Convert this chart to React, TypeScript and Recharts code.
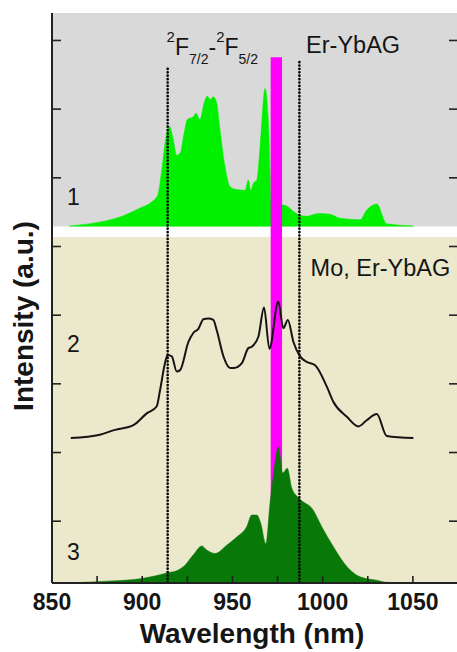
import React from "react";
import {
  ComposedChart,
  Area,
  Line,
  XAxis,
  YAxis,
  ReferenceArea,
  ReferenceDot,
} from "recharts";

// spectrum 1: Er-YbAG (bright green, upper panel)
const spec1Nm = [
  859.6, 872.9, 887.7, 898.8, 905.3, 908.6, 910.8, 913.2, 915.1, 916.9, 919.1, 921.0,
  923.2, 925.0, 928.3, 929.8, 932.0, 934.3, 936.1, 937.6, 939.4, 941.3, 943.1, 945.9,
  948.7, 952.4, 957.0, 958.8, 960.1, 961.6, 963.5, 965.3, 968.1, 969.9, 971.8, 976.4,
  980.1, 983.8, 987.1, 991.2, 997.6, 1004.1, 1009.7, 1020.8, 1024.4, 1030.0, 1035.5, 1050.3,
];
const spec1Val = [
  5.3, 5.34, 5.43, 5.56, 5.65, 5.75, 6.11, 6.6, 6.75, 6.6, 6.33, 6.36,
  6.65, 6.85, 6.89, 6.94, 6.85, 7.09, 7.19, 7.14, 7.18, 7.09, 6.7, 6.16,
  5.87, 5.83, 5.82, 5.97, 5.82, 5.92, 5.97, 6.45, 7.3, 6.84, 5.63, 5.61,
  5.59, 5.51, 5.46, 5.44, 5.48, 5.47, 5.41, 5.39, 5.53, 5.62, 5.33, 5.3,
];

// spectrum 2: Mo, Er-YbAG (black line)
const spec2Nm = [
  860.4, 876.6, 884.9, 895.1, 902.5, 908.0, 909.9, 912.6, 914.1, 916.4, 919.1, 921.0,
  925.6, 928.3, 931.1, 933.9, 936.6, 939.4, 941.3, 945.0, 948.7, 950.9, 955.2, 958.8,
  960.7, 964.4, 967.5, 970.5, 975.4, 978.2, 980.7, 983.8, 987.5, 991.2, 995.8, 1002.3,
  1005.9, 1013.4, 1019.8, 1024.4, 1030.0, 1035.5, 1050.3,
];
const spec2Val = [
  2.21, 2.26, 2.33, 2.4, 2.57, 2.67, 2.91, 3.3, 3.42, 3.4, 3.18, 3.2,
  3.61, 3.74, 3.8, 3.94, 3.95, 3.93, 3.78, 3.4, 3.23, 3.23, 3.3, 3.52,
  3.54, 3.69, 4.11, 3.51, 4.2, 3.81, 3.93, 3.61, 3.4, 3.32, 3.27, 2.96,
  2.74, 2.52, 2.38, 2.47, 2.56, 2.24, 2.21,
];

// spectrum 3: dark green, lower panel
const spec3Nm = [
  860.4, 874.8, 895.1, 909.9, 914.1, 919.1, 923.7, 928.3, 933.0, 935.8, 940.4, 946.8,
  952.4, 957.9, 960.7, 963.5, 965.7, 968.5, 970.8, 973.1, 975.4, 977.9, 980.4, 982.9,
  987.1, 994.8, 999.5, 1005.9, 1013.4, 1020.7, 1030.0, 1035.5, 1050.3,
];
const spec3Val = [
  0.1, 0.12, 0.15, 0.22, 0.25, 0.28, 0.36, 0.51, 0.64, 0.58, 0.53, 0.65,
  0.77, 0.92, 1.09, 1.09, 0.97, 0.67, 1.26, 1.75, 2.08, 1.7, 1.77, 1.48,
  1.33, 1.16, 0.92, 0.63, 0.34, 0.19, 0.14, 0.11, 0.1,
];

const xTicks = [850, 875, 900, 925, 950, 975, 1000, 1025, 1050, 1075];
const yTicks = [1, 2, 3, 4, 5, 6, 7, 8];

const X_DOMAIN: [number, number] = [850, 1075];
const Y_DOMAIN: [number, number] = [0.1, 8.4];
const SPEC1_BASE = 5.29; // baseline of curve 1 / bottom of the grey panel
const LOWER_PANEL_TOP = 5.14;
const PUMP_BAND: [number, number] = [971.2, 977.5];
const PUMP_TOP = 7.755;
// 2F7/2 - 2F5/2 transition markers (wavelength, top end)
const transitionNm = [914.1, 987.1];
const transitionTop = [7.6, 7.72];

const FONT = '"Liberation Sans", Arial, Helvetica, sans-serif';
const INK = "#151515";

const toRows = (nm: number[], val: number[]) => nm.map((x, i) => ({ nm: x, v: val[i] }));
const spec1Rows = toRows(spec1Nm, spec1Val);
const spec2Rows = toRows(spec2Nm, spec2Val);
const spec3Rows = toRows(spec3Nm, spec3Val);
const transitionRows = transitionNm.map((nm, i) => [
  { nm, v: 0.06 },
  { nm, v: transitionTop[i] },
]);

// label content that draws svg text with its baseline at the anchor point
const noteAt = (draw: (x: number, y: number) => React.ReactNode) => (props: any) => {
  const vb = props.viewBox ?? props;
  return <g>{draw(vb.x, vb.y)}</g>;
};

const plainNote = (text: string, size = 23) =>
  noteAt((x, y) => (
    <text x={x} y={y} fontSize={size} fontFamily={FONT} fill={INK}>
      {text}
    </text>
  ));

const termNote = noteAt((x, y) => (
  <text x={x} y={y} fontSize={23} fontFamily={FONT} fill={INK}>
    <tspan fontSize={15} dy={-13}>2</tspan>
    <tspan fontSize={23} dy={13}>F</tspan>
    <tspan fontSize={14} dy={9}>7/2</tspan>
    <tspan fontSize={23} dy={-9}>-</tspan>
    <tspan fontSize={15} dy={-13}>2</tspan>
    <tspan fontSize={23} dy={13}>F</tspan>
    <tspan fontSize={14} dy={9}>5/2</tspan>
  </text>
));

const yTitle = (props: any) => {
  const vb = props.viewBox;
  const cx = vb.x + 33;
  const cy = vb.y + vb.height / 2 + 18;
  return (
    <text
      x={cx}
      y={cy}
      transform={`rotate(-90 ${cx} ${cy})`}
      textAnchor="middle"
      fontSize={28}
      fontWeight={700}
      fontFamily={FONT}
      fill={INK}
    >
      Intensity (a.u.)
    </text>
  );
};

const xTitle = (props: any) => {
  const vb = props.viewBox;
  return (
    <text
      x={vb.x + 200}
      y={vb.y + 60}
      textAnchor="middle"
      fontSize={28}
      fontWeight={700}
      fontFamily={FONT}
      fill={INK}
    >
      Wavelength (nm)
    </text>
  );
};

const axisLine = { stroke: "#222", strokeWidth: 2 };
const tickLine = { stroke: "#222", strokeWidth: 1.6 };
const blank = () => "";

export default function App() {
  return (
    <div
      style={{
        position: "absolute",
        left: 0,
        top: 0,
        width: 457,
        height: 652,
        overflow: "hidden",
        background: "#fff",
      }}
    >
      <ComposedChart width={470} height={652} margin={{ top: 13, right: 0, bottom: 0, left: 0 }}>
        <XAxis
          dataKey="nm"
          type="number"
          domain={X_DOMAIN}
          ticks={xTicks}
          interval={0}
          allowDataOverflow
          tickFormatter={(v: number) => (v % 50 === 0 && v < 1075 ? String(v) : "")}
          tick={{ fontSize: 23, fontWeight: 700, fill: INK, fontFamily: FONT }}
          tickSize={-7}
          tickMargin={18}
          height={69}
          axisLine={axisLine}
          tickLine={tickLine}
          label={{ content: xTitle }}
        />
        <XAxis
          xAxisId="top"
          orientation="top"
          dataKey="nm"
          type="number"
          domain={X_DOMAIN}
          ticks={xTicks}
          interval={0}
          allowDataOverflow
          tickFormatter={blank}
          tickSize={-7}
          height={0}
          axisLine={axisLine}
          tickLine={tickLine}
        />
        <YAxis
          type="number"
          domain={Y_DOMAIN}
          ticks={yTicks}
          interval={0}
          allowDataOverflow
          tickFormatter={blank}
          tickSize={-9}
          width={52}
          axisLine={axisLine}
          tickLine={tickLine}
          label={{ content: yTitle }}
        />
        <YAxis
          yAxisId="right"
          orientation="right"
          type="number"
          domain={Y_DOMAIN}
          ticks={yTicks}
          interval={0}
          allowDataOverflow
          tickFormatter={blank}
          tickSize={-9}
          tickMargin={0}
          width={12}
          axisLine={axisLine}
          tickLine={tickLine}
        />

        {/* panel backgrounds */}
        <ReferenceArea
          x1={X_DOMAIN[0]}
          x2={X_DOMAIN[1]}
          y1={Y_DOMAIN[0]}
          y2={LOWER_PANEL_TOP}
          fill="#ebe8cb"
          fillOpacity={1}
          stroke="none"
          zIndex={-200}
        />
        <ReferenceArea
          x1={X_DOMAIN[0]}
          x2={X_DOMAIN[1]}
          y1={SPEC1_BASE}
          y2={Y_DOMAIN[1]}
          fill="#d9d9d9"
          fillOpacity={1}
          stroke="none"
          zIndex={-200}
        />

        <Area
          data={spec1Rows}
          dataKey="v"
          type="monotone"
          baseValue={SPEC1_BASE}
          fill="#00f000"
          fillOpacity={1}
          stroke="#00f000"
          strokeWidth={0.5}
          dot={false}
          activeDot={false}
          isAnimationActive={false}
          zIndex={100}
        />

        {/* pump band */}
        <ReferenceArea
          x1={PUMP_BAND[0]}
          x2={PUMP_BAND[1]}
          y1={Y_DOMAIN[0]}
          y2={PUMP_TOP}
          fill="#ff00ff"
          fillOpacity={1}
          stroke="none"
          zIndex={150}
        />

        <Line
          data={spec2Rows}
          dataKey="v"
          type="monotone"
          stroke={INK}
          strokeWidth={2}
          dot={false}
          activeDot={false}
          isAnimationActive={false}
          zIndex={300}
        />
        {/* bound to the right axis (same scale) so that axis gets drawn */}
        <Area
          data={spec3Rows}
          dataKey="v"
          yAxisId="right"
          xAxisId="top"
          type="monotone"
          fill="#087808"
          fillOpacity={1}
          stroke="#087808"
          strokeWidth={0.5}
          dot={false}
          activeDot={false}
          isAnimationActive={false}
          zIndex={320}
        />

        {transitionRows.map((rows, i) => (
          <Line
            key={i}
            data={rows}
            dataKey="v"
            type="linear"
            stroke="#000"
            strokeWidth={2.6}
            strokeLinecap="round"
            strokeDasharray="0.1 3.3"
            dot={false}
            activeDot={false}
            isAnimationActive={false}
            zIndex={450}
          />
        ))}

        <ReferenceDot x={858.3} y={5.605} r={0} fill="none" stroke="none" ifOverflow="visible" label={{ content: plainNote("1") }} zIndex={700} />
        <ReferenceDot x={858.3} y={3.468} r={0} fill="none" stroke="none" ifOverflow="visible" label={{ content: plainNote("2") }} zIndex={700} />
        <ReferenceDot x={858.3} y={0.435} r={0} fill="none" stroke="none" ifOverflow="visible" label={{ content: plainNote("3") }} zIndex={700} />
        <ReferenceDot x={990.8} y={7.814} r={0} fill="none" stroke="none" ifOverflow="visible" label={{ content: plainNote("Er-YbAG", 23.5) }} zIndex={700} />
        <ReferenceDot x={993.3} y={4.571} r={0} fill="none" stroke="none" ifOverflow="visible" label={{ content: plainNote("Mo, Er-YbAG", 23.5) }} zIndex={700} />
        <ReferenceDot x={913.5} y={7.782} r={0} fill="none" stroke="none" ifOverflow="visible" label={{ content: termNote }} zIndex={700} />
      </ComposedChart>
    </div>
  );
}
